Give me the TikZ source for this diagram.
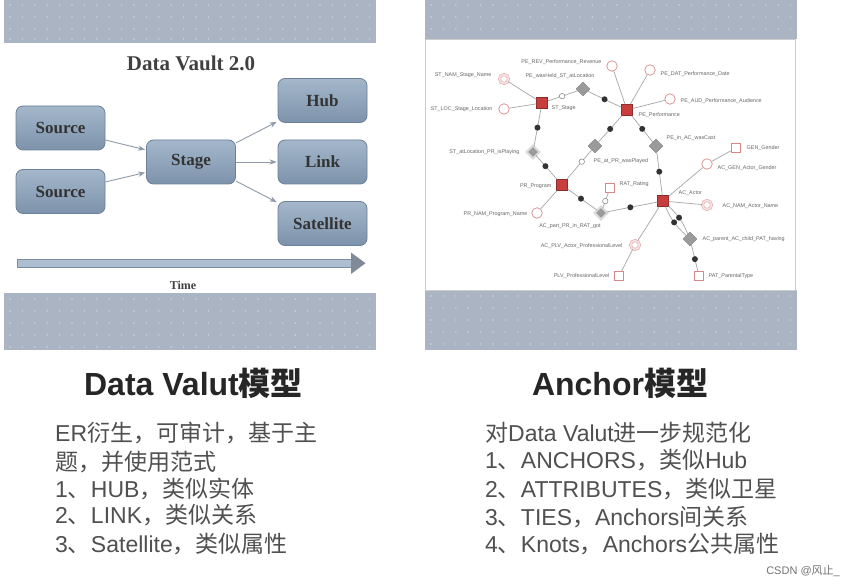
\documentclass[tikz,border=0pt]{standalone}
\usepackage{fontspec}
\setmainfont{Liberation Sans}
\newfontfamily\cjk{Noto Sans CJK SC}
\newfontfamily\dvserif{Liberation Serif}
\usetikzlibrary{arrows.meta, shapes.geometric}

\definecolor{band}{HTML}{AAB4C2}
\definecolor{boxtop}{HTML}{A4B7CB}
\definecolor{boxbot}{HTML}{7D93AB}
\definecolor{boxline}{HTML}{6B8099}
\definecolor{flow}{HTML}{8E9AA8}
\definecolor{anc}{HTML}{C73E3D}
\definecolor{attr}{HTML}{D9888A}
\definecolor{tiegray}{HTML}{9B9B9B}
\definecolor{bodygray}{HTML}{505050}

\newcommand{\zh}[1]{{\cjk #1}}

\begin{document}
\begin{tikzpicture}[x=1pt, y=-1pt, >=Stealth,
  dvbox/.style={rectangle, rounded corners=7pt, top color=boxtop, bottom color=boxbot,
    draw=boxline, line width=0.8pt, minimum width=89pt, minimum height=44pt, inner sep=0pt,
    text=black!80, font=\dvserif\bfseries\fontsize{17}{17}\selectfont},
  flowarrow/.style={->, flow, line width=0.9pt, shorten >=1pt},
  anchorbox/.style={rectangle, fill=anc, draw=anc!70!black, line width=0.4pt,
    minimum size=11pt, inner sep=0pt},
  attrc/.style={circle, draw=attr, fill=white, line width=0.7pt, minimum size=10.5pt, inner sep=0pt},
  hattrc/.style={circle, draw=attr!80, double=attr!25, double distance=1.8pt,
    line width=0.5pt, minimum size=9pt, inner sep=0pt},
  knotbox/.style={rectangle, draw=attr, fill=white, line width=0.7pt, minimum size=9.5pt, inner sep=0pt},
  tiedia/.style={diamond, fill=tiegray, draw=tiegray!80!black, line width=0.3pt,
    minimum size=14pt, inner sep=0pt},
  htiedia/.style={diamond, fill=tiegray, draw=black!25, double=black!12, double distance=1.2pt,
    line width=0.4pt, minimum size=12.5pt, inner sep=0pt},
  bdot/.style={circle, fill=black!80, minimum size=6pt, inner sep=0pt},
  odot/.style={circle, draw=black!50, fill=white, line width=0.5pt, minimum size=5.5pt, inner sep=0pt},
  edge/.style={draw=black!35, line width=0.7pt},
  lbl/.style={font=\fontsize{5.4}{6}\selectfont, text=black!60, inner sep=0.5pt},
  bodytext/.style={anchor=base west, inner sep=0pt, text=bodygray, font=\fontsize{23}{27}\selectfont},
  heading/.style={anchor=base, inner sep=0pt, text=black!85, font=\bfseries\fontsize{32}{36}\selectfont}]

\useasboundingbox (0,0) rectangle (855,585);
\fill[white] (0,0) rectangle (855,585);

%-- dotted bands of the two slides
\fill[band] (4,0) rectangle (376,43);
\fill[band] (4,293) rectangle (376,350);
\fill[band] (425,0) rectangle (797,39);
\fill[band] (425,290) rectangle (797,350);
\foreach \i in {0,...,29}
  \foreach \y in {5,17,29,39,299,311,323,335,347}
    \fill[white, opacity=.45] (10+\i*12.4, \y) circle (0.8pt);
\foreach \i in {0,...,29}
  \foreach \y in {5,17,29,296,308,320,332,344}
    \fill[white, opacity=.45] (431+\i*12.4, \y) circle (0.8pt);
\draw[black!20, line width=0.6pt] (425,39) rectangle (795,290);

%-- Data Vault 2.0 slide
\node[font=\dvserif\bfseries\fontsize{21}{21}\selectfont, text=black!75] (dvtitle) at (191,63) {Data Vault 2.0};

\node[dvbox] (src1)  at (60.5,128)   {Source};
\node[dvbox] (src2)  at (60.5,191.5) {Source};
\node[dvbox] (stage) at (191,162)    {Stage};
\node[dvbox] (hub)   at (322.5,100.5){Hub};
\node[dvbox] (link)  at (322.5,162)  {Link};
\node[dvbox] (sat)   at (322.5,223.5){Satellite};

\draw[flowarrow] (src1.-15) -- (stage.165);
\draw[flowarrow] (src2.12)  -- (stage.193);
\draw[flowarrow] (stage.23) -- (hub.205);
\draw[flowarrow] (stage.east) -- (link.west);
\draw[flowarrow] (stage.-23) -- (sat.155);

%-- time arrow
\draw[fill=boxtop!90, draw=boxline!90, line width=0.7pt] (17,259.5) rectangle (352,267);
\fill[flow!90!black] (351,252.5) -- (365.5,263.2) -- (351,274) -- cycle;
\node[font=\dvserif\bfseries\fontsize{12}{12}\selectfont, text=black!75] (time) at (183,285) {Time};

%-- Anchor model slide: anchors
\node[anchorbox] (st) at (542,103) {};
\node[anchorbox] (pe) at (627,110) {};
\node[anchorbox] (pr) at (562,185) {};
\node[anchorbox] (ac) at (663,201) {};

%-- attributes and knots
\node[hattrc]  (stnam) at (504,79)  {};
\node[attrc]   (stloc) at (504,109) {};
\node[attrc]   (perev) at (612,66)  {};
\node[attrc]   (pedat) at (650,70)  {};
\node[attrc]   (peaud) at (670,99)  {};
\node[attrc]   (prnam) at (537,213) {};
\node[attrc]   (acgen) at (707,164) {};
\node[knotbox] (gen)   at (736,148) {};
\node[hattrc]  (acnam) at (707,205) {};
\node[hattrc]  (acplv) at (635,245) {};
\node[knotbox] (plv)   at (619,276) {};
\node[knotbox] (rat)   at (610,188) {};
\node[knotbox] (pat)   at (699,276) {};

%-- ties
\node[tiedia]  (held)   at (583,89)  {};
\node[htiedia] (play)   at (533,152) {};
\node[tiedia]  (played) at (595,146) {};
\node[tiedia]  (cast)   at (656,146) {};
\node[htiedia] (got)    at (601,213) {};
\node[tiedia]  (having) at (690,239) {};

%-- attribute edges
\foreach \a/\b in {st/stnam, st/stloc, pe/perev, pe/pedat, pe/peaud, pr/prnam,
                   ac/acgen, acgen/gen, ac/acnam, ac/acplv, acplv/plv}
  \draw[edge] (\a) -- (\b);

%-- tie edges with their role dots
\foreach \a/\b/\d/\p in {st/held/odot/0.48, held/pe/bdot/0.5, st/play/bdot/0.5,
                         play/pr/bdot/0.45, pe/played/bdot/0.5, played/pr/odot/0.4,
                         pe/cast/bdot/0.5, cast/ac/bdot/0.45, pr/got/bdot/0.45,
                         got/ac/bdot/0.47, got/rat/odot/0.47, having/pat/bdot/0.55}
  \draw[edge] (\a) -- node[\d, pos=\p] (r\a\b) {} (\b);
\draw[edge] (ac) to[bend left=12]  node[bdot, pos=0.45] (rparent) {} (having);
\draw[edge] (ac) to[bend right=12] node[bdot, pos=0.5]  (rchild)  {} (having);

%-- graph labels
\node[lbl, anchor=east] (lstnam)  at (492,75)  {ST\_NAM\_Stage\_Name};
\node[lbl, anchor=east] (lstloc)  at (493,109) {ST\_LOC\_Stage\_Location};
\node[lbl, anchor=east] (lperev)  at (602,62)  {PE\_REV\_Performance\_Revenue};
\node[lbl]              (lheld)   at (560,76)  {PE\_wasHeld\_ST\_atLocation};
\node[lbl, anchor=west] (lpedat)  at (660,74)  {PE\_DAT\_Performance\_Date};
\node[lbl, anchor=west] (lpeaud)  at (680,101) {PE\_AUD\_Performance\_Audience};
\node[lbl, anchor=west] (lst)     at (551,108) {ST\_Stage};
\node[lbl, anchor=west] (lpe)     at (638,115) {PE\_Performance};
\node[lbl, anchor=east] (lplay)   at (520,152) {ST\_atLocation\_PR\_isPlaying};
\node[lbl, anchor=west] (lplayed) at (593,161) {PE\_at\_PR\_wasPlayed};
\node[lbl, anchor=west] (lcast)   at (666,138) {PE\_in\_AC\_wasCast};
\node[lbl, anchor=west] (lgen)    at (746,148) {GEN\_Gender};
\node[lbl, anchor=west] (lacgen)  at (717,168) {AC\_GEN\_Actor\_Gender};
\node[lbl, anchor=west] (lac)     at (678,193) {AC\_Actor};
\node[lbl, anchor=west] (lacnam)  at (722,206) {AC\_NAM\_Actor\_Name};
\node[lbl, anchor=west] (lrat)    at (619,184) {RAT\_Rating};
\node[lbl, anchor=east] (lpr)     at (552,186) {PR\_Program};
\node[lbl, anchor=east] (lprnam)  at (528,214) {PR\_NAM\_Program\_Name};
\node[lbl]              (lgot)    at (570,226) {AC\_part\_PR\_in\_RAT\_got};
\node[lbl, anchor=east] (lacplv)  at (623,246) {AC\_PLV\_Actor\_ProfessionalLevel};
\node[lbl, anchor=east] (lplv)    at (610,276) {PLV\_ProfessionalLevel};
\node[lbl, anchor=west] (lhaving) at (702,239) {AC\_parent\_AC\_child\_PAT\_having};
\node[lbl, anchor=west] (lpat)    at (708,276) {PAT\_ParentalType};

%-- captions under the slides
\node[heading] (dvhead) at (193.5,395.5) {Data Valut\zh{模型}};
\node[heading] (anhead) at (620,395.5)   {Anchor\zh{模型}};

\node[bodytext] (dv1) at (55,441.4) {ER\zh{衍生，可审计，基于主}};
\node[bodytext] (dv2) at (55,470.4) {\zh{题，并使用范式}};
\node[bodytext] (dv3) at (55,497)   {1\zh{、}HUB\zh{，类似实体}};
\node[bodytext] (dv4) at (55,523.7) {2\zh{、}LINK\zh{，类似关系}};
\node[bodytext] (dv5) at (55,552)   {3\zh{、}Satellite\zh{，类似属性}};

\node[bodytext] (an1) at (485,442)   {\zh{对}Data Valut\zh{进一步规范化}};
\node[bodytext] (an2) at (485,468.7) {1\zh{、}ANCHORS\zh{，类似}Hub};
\node[bodytext] (an3) at (485,497)   {2\zh{、}ATTRIBUTES\zh{，类似卫星}};
\node[bodytext] (an4) at (485,525.4) {3\zh{、}TIES\zh{，}Anchors\zh{间关系}};
\node[bodytext] (an5) at (485,552)   {4\zh{、}Knots\zh{，}Anchors\zh{公共属性}};

\node[anchor=base east, inner sep=0pt, text=black!55, font=\fontsize{11}{11}\selectfont]
  (mark) at (840,574) {CSDN @\zh{风止}\_};

\end{tikzpicture}
\end{document}
